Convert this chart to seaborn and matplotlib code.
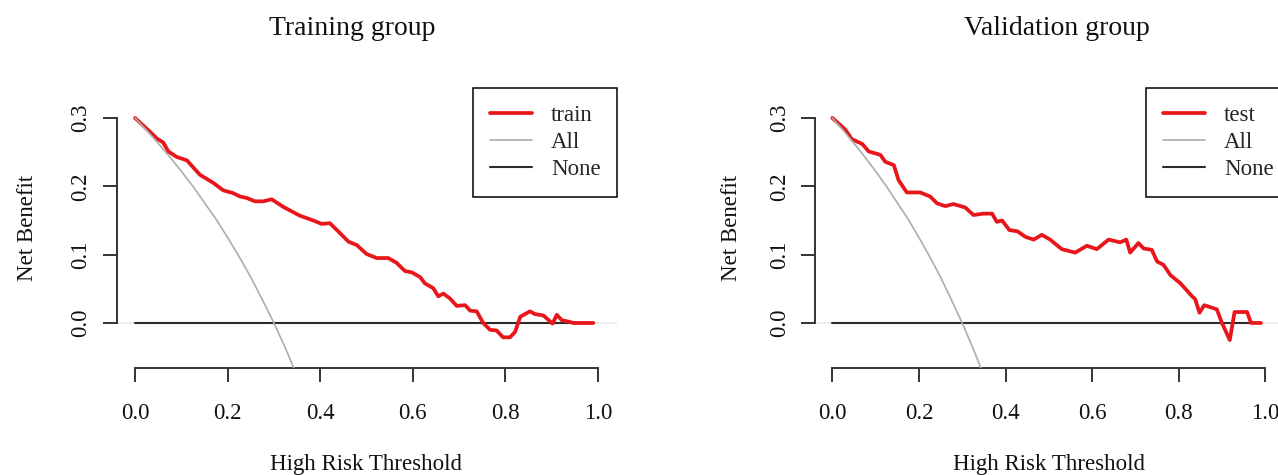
import matplotlib
matplotlib.use("Agg")
import matplotlib.pyplot as plt
import numpy as np
import pandas as pd
import seaborn as sns

# ---------------- data ----------------
train_t = [0.000, 0.032, 0.047, 0.061, 0.072, 0.090, 0.112, 0.140, 0.169, 0.191,
           0.212, 0.227, 0.241, 0.259, 0.277, 0.295, 0.320, 0.356, 0.385, 0.403,
           0.421, 0.436, 0.461, 0.479, 0.500, 0.522, 0.547, 0.565, 0.583, 0.598,
           0.616, 0.626, 0.644, 0.655, 0.666, 0.680, 0.695, 0.713, 0.724, 0.738,
           0.752, 0.767, 0.781, 0.795, 0.810, 0.821, 0.832, 0.853, 0.864, 0.882,
           0.902, 0.911, 0.922, 0.936, 0.947, 0.990]
train_nb = [0.300, 0.280, 0.270, 0.264, 0.251, 0.243, 0.238, 0.217, 0.205, 0.194,
            0.190, 0.185, 0.183, 0.178, 0.178, 0.181, 0.170, 0.157, 0.150, 0.145,
            0.146, 0.136, 0.119, 0.114, 0.101, 0.095, 0.095, 0.088, 0.076, 0.074,
            0.067, 0.058, 0.051, 0.039, 0.043, 0.036, 0.025, 0.026, 0.018, 0.017,
            0.000, -0.010, -0.011, -0.021, -0.021, -0.013, 0.009, 0.017, 0.013, 0.011,
            -0.001, 0.012, 0.004, 0.002, 0.000, 0.000]

test_t = [0.000, 0.030, 0.045, 0.069, 0.084, 0.111, 0.122, 0.142, 0.153, 0.172,
          0.203, 0.226, 0.242, 0.261, 0.280, 0.307, 0.326, 0.349, 0.369, 0.380,
          0.392, 0.409, 0.428, 0.446, 0.465, 0.484, 0.503, 0.530, 0.561, 0.588,
          0.611, 0.638, 0.665, 0.679, 0.688, 0.707, 0.719, 0.738, 0.750, 0.765,
          0.781, 0.804, 0.831, 0.838, 0.848, 0.859, 0.888, 0.900, 0.918, 0.929,
          0.958, 0.967, 0.990]
test_nb = [0.300, 0.283, 0.269, 0.262, 0.251, 0.246, 0.236, 0.231, 0.209, 0.191,
           0.191, 0.185, 0.175, 0.171, 0.174, 0.169, 0.158, 0.160, 0.160, 0.148,
           0.150, 0.136, 0.134, 0.126, 0.122, 0.129, 0.122, 0.108, 0.103, 0.113,
           0.108, 0.122, 0.118, 0.122, 0.103, 0.117, 0.109, 0.107, 0.090, 0.085,
           0.070, 0.058, 0.039, 0.035, 0.015, 0.026, 0.020, 0.000, -0.025, 0.016,
           0.016, 0.000, 0.000]

all_t = [0.000, 0.025, 0.050, 0.075, 0.100, 0.125, 0.150, 0.175, 0.200, 0.225,
         0.250, 0.275, 0.300, 0.325, 0.350]
all_nb = [0.300, 0.282, 0.263, 0.243, 0.222, 0.200, 0.176, 0.152, 0.125, 0.097,
          0.067, 0.034, 0.000, -0.037, -0.077]

none_t = [0.0, 0.99]
none_nb = [0.0, 0.0]

x_ticks = [0.0, 0.2, 0.4, 0.6, 0.8, 1.0]
x_tick_labels = ["0.0", "0.2", "0.4", "0.6", "0.8", "1.0"]
y_ticks = [0.0, 0.1, 0.2, 0.3]
y_tick_labels = ["0.0", "0.1", "0.2", "0.3"]

titles = ["Training group", "Validation group"]
model_labels = ["train", "test"]
legend_names = ["All", "None"]
x_title = "High Risk Threshold"
y_title = "Net Benefit"

# ---------------- style ----------------
sns.set_theme(style="white")
plt.rcParams["font.family"] = ["Liberation Serif", "DejaVu Serif"]

RED = "#e8161b"
GRAY = "#adadad"
DARK = "#2b2b2b"
AXC = "#333333"
FS = 16.5

W, H = 1278, 475
fig = plt.figure(figsize=(W / 100, H / 100), dpi=100)
fig.patch.set_facecolor("white")


def px_axes(left, top, right, bottom):
    return [left / W, 1 - bottom / H, (right - left) / W, (bottom - top) / H]


panels = [
    dict(rect=px_axes(116.5, 108.4, 616.5, 368), t=train_t, nb=train_nb,
         title_x=352.5, leg=(473, 88), ylab_x=-0.157),
    dict(rect=px_axes(815, 108.4, 1282.6, 368), t=test_t, nb=test_nb,
         title_x=1057, leg=(1146, 88), ylab_x=-0.156),
]

for i, p in enumerate(panels):
    ax = fig.add_axes(p["rect"])
    ax.set_facecolor("white")
    ax.axhline(0, color="#ebebeb", lw=1.3, zorder=0.5)

    df_none = pd.DataFrame({"t": none_t, "nb": none_nb})
    df_mod = pd.DataFrame({"t": p["t"], "nb": p["nb"]})
    df_all = pd.DataFrame({"t": all_t, "nb": all_nb})

    sns.lineplot(data=df_none, x="t", y="nb", ax=ax, color=DARK, lw=1.5,
                 estimator=None, sort=False, zorder=2)
    sns.lineplot(data=df_mod, x="t", y="nb", ax=ax, color=RED, lw=2.7,
                 estimator=None, sort=False, zorder=3)
    sns.lineplot(data=df_all, x="t", y="nb", ax=ax, color=GRAY, lw=1.2,
                 estimator=None, sort=False, zorder=4)

    lines = ax.get_lines()
    h_none, h_mod, h_all = lines[1], lines[2], lines[3]
    leg = ax.legend([h_mod, h_all, h_none], [model_labels[i]] + legend_names,
                    loc="upper left",
                    bbox_to_anchor=(p["leg"][0] / W, 1 - p["leg"][1] / H),
                    bbox_transform=fig.transFigure, borderaxespad=0,
                    fontsize=FS, frameon=True, fancybox=False, framealpha=1,
                    edgecolor="black", handlelength=1.85, handletextpad=0.83,
                    borderpad=0.72, labelspacing=0.27)
    leg.get_frame().set_linewidth(1.1)

    ax.set_xlim(-0.04, 1.04)
    ax.set_ylim(-0.0659, 0.314)
    ax.set_xticks(x_ticks)
    ax.set_xticklabels(x_tick_labels)
    ax.set_yticks(y_ticks)
    ax.set_yticklabels(y_tick_labels, rotation=90, va="center")

    for s in ["top", "right"]:
        ax.spines[s].set_visible(False)
    for s in ["left", "bottom"]:
        ax.spines[s].set_color(AXC)
        ax.spines[s].set_linewidth(1.4)
    ax.spines["left"].set_bounds(0, 0.3)
    ax.spines["bottom"].set_bounds(0, 1)

    ax.tick_params(axis="both", direction="out", length=10, width=1.4,
                   color=AXC, labelsize=FS, labelcolor="#111111",
                   left=True, bottom=True)
    ax.tick_params(axis="x", pad=15.5)
    ax.tick_params(axis="y", pad=8)

    ax.set_xlabel(x_title, fontsize=FS, color="#111111")
    ax.xaxis.label.set_va("baseline")
    ax.xaxis.set_label_coords(0.5, (368 - 470) / 259.6)
    ax.set_ylabel(y_title, fontsize=FS, color="#111111")
    ax.yaxis.set_label_coords(p["ylab_x"], 0.539)

    fig.text(p["title_x"] / W, 1 - 35 / H, titles[i], ha="center",
             va="baseline", fontsize=20, color="#111111")

fig.savefig("out.png", dpi=100, facecolor="white")
